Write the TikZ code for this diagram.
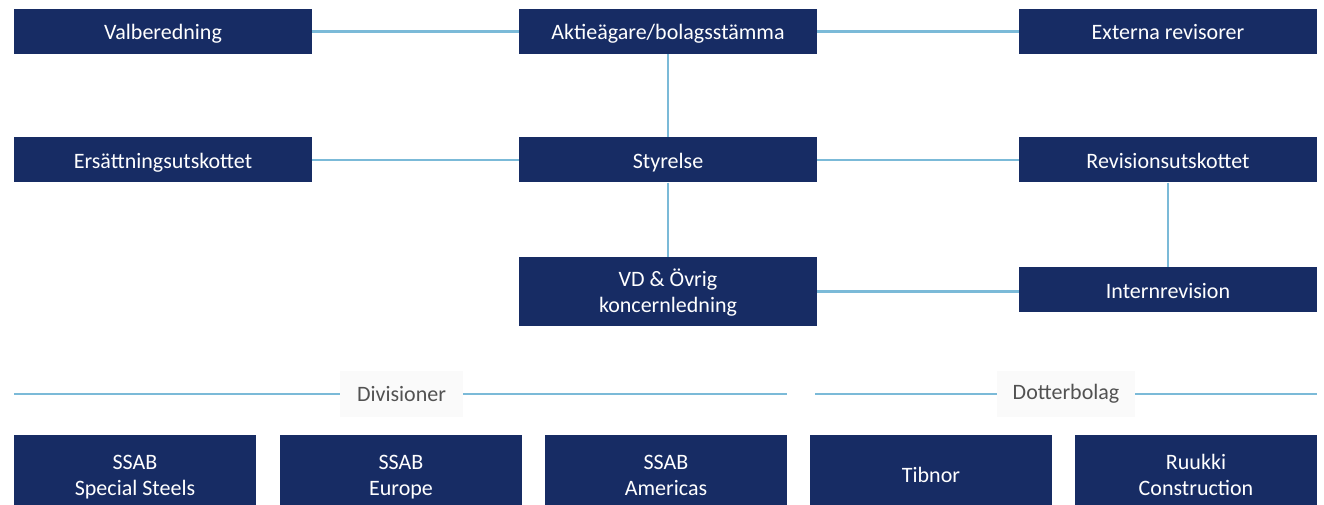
\documentclass[tikz,border=0pt]{standalone}
\usepackage{fontspec}
\setmainfont{Carlito}
\usetikzlibrary{positioning}
\definecolor{ssabnavy}{HTML}{172C64}
\definecolor{linkblue}{HTML}{7BBAD8}

\begin{document}
\begin{tikzpicture}[x=1pt, y=-1pt,
  orgbox/.style={fill=ssabnavy, text=white, inner sep=0pt, minimum width=298pt, minimum height=45pt, align=center, font=\fontsize{22}{26}\selectfont},
  oneline/.style={text height=17pt, text depth=0pt},
  twoline/.style={text height=42pt, text depth=0pt},
  unitbox/.style={orgbox, minimum width=242pt, minimum height=78pt},
  link/.style={draw=linkblue, line width=2.5pt},
  grouplabel/.style={fill=black!2, text=black!68, inner sep=0pt, minimum height=46pt, font=\fontsize{22}{26}\selectfont}]
 \useasboundingbox (0,0) rectangle (1324,505);
 \begin {scope}
  \node [orgbox, oneline] (val) at (163,31.5) {Valberedning};
  \node [orgbox, oneline] (agm) at (668,31.5) {Aktieägare/bolagsstämma};
  \node [orgbox, oneline] (ext) at (1168,31.5) {Externa revisorer};
  \node [orgbox, oneline] (ers) at (163,160) {Ersättningsutskottet};
  \node [orgbox, oneline] (sty) at (668,160) {Styrelse};
  \node [orgbox, oneline] (rev) at (1168,160) {Revisionsutskottet};
  \node [orgbox, twoline, minimum height=69pt] (vd) at (668,291.5) {VD \& Övrig\\koncernledning};
  \node [orgbox, oneline] (int) at (1168,289.5) {Internrevision};
  \draw [link] (val) -- (agm);
  \draw [link] (agm) -- (ext);
  \draw [link] (agm) -- (sty);
  \draw [link] (ers) -- (sty);
  \draw [link] (sty) -- (rev);
  \draw [link] (sty) -- (vd);
  \draw [link] (rev) -- (int);
  \draw [link] (vd.east) -- (vd.east -| int.west);
 \end {scope}
 \begin {scope}
  \coordinate (divL) at (14,394);
  \coordinate (divR) at (787,394);
  \coordinate (dotL) at (815,394);
  \coordinate (dotR) at (1317,394);
  \draw [link] (divL) -- (divR);
  \draw [link] (dotL) -- (dotR);
  \node [grouplabel, minimum width=123pt] (div) at (401.5,394) {Divisioner};
  \node [grouplabel, minimum width=138pt] (dot) at (1066,394) {Dotterbolag};
  \foreach \x/\name/\lines/\txt in {135/ssp/twoline/{SSAB\\Special Steels}, 401/eur/twoline/{SSAB\\Europe}, 666/ame/twoline/{SSAB\\Americas}, 931/tib/oneline/{Tibnor}, 1196/ruu/twoline/{Ruukki\\Construction}}
   \node [unitbox, \lines] (\name) at (\x,474) {\txt};
 \end {scope}
\end{tikzpicture}
\end{document}
